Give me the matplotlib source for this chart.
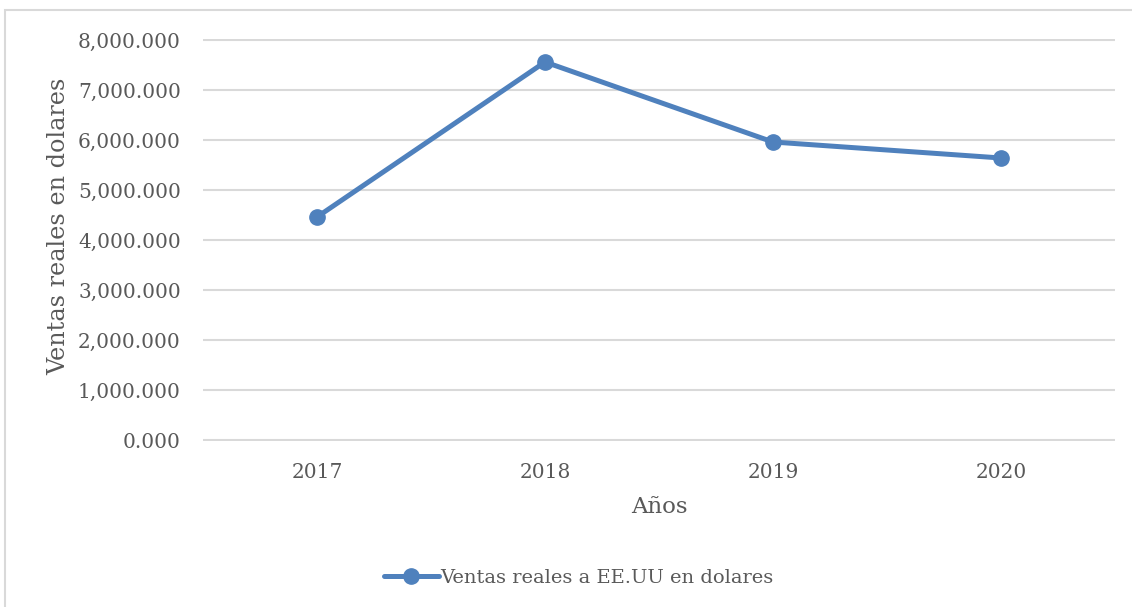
import matplotlib
matplotlib.use("Agg")
import matplotlib.pyplot as plt
from matplotlib.patches import Rectangle
from matplotlib.ticker import FuncFormatter

years = ["2017", "2018", "2019", "2020"]
ventas = [4460, 7560, 5960, 5640]
series_label = "Ventas reales a EE.UU en dolares"
y_ticks = [0, 1000, 2000, 3000, 4000, 5000, 6000, 7000, 8000]

plt.rcParams['font.family'] = ['DejaVu Serif']
W, H = 1132, 607
fig = plt.figure(figsize=(W / 100, H / 100), dpi=100)
fig.patch.set_facecolor('white')

# outer chart border
fig.add_artist(Rectangle((5 / W, -0.1), 1.2, 1 - 10 / H + 0.1, transform=fig.transFigure,
                         fill=False, edgecolor='#d9d9d9', linewidth=1.5))

ax = fig.add_axes([203 / W, 1 - 441 / H, (1115 - 203) / W, 402 / H])
x = list(range(len(years)))
ax.plot(x, ventas, color='#4f81bd', linewidth=3.6, marker='o', markersize=11,
        label=series_label, solid_capstyle='round', zorder=3)
ax.set_xlim(-0.5, len(years) - 0.5)
ax.set_ylim(-20, 8020)
ax.set_yticks(y_ticks)
ax.yaxis.set_major_formatter(FuncFormatter(lambda v, p: f"{v:,.0f}.000"))
ax.set_xticks(x)
ax.set_xticklabels(years)
ax.grid(axis='y', color='#d9d9d9', linewidth=1.5)
ax.set_axisbelow(True)
for s in ax.spines.values():
    s.set_visible(False)
ax.tick_params(axis='both', length=0, labelsize=14.5, colors='#595959')
ax.tick_params(axis='y', pad=16)
ax.tick_params(axis='x', pad=16)
ax.set_xlabel("Años", fontsize=16.5, color='#595959', labelpad=10)
ax.set_ylabel("Ventas reales en dolares", fontsize=17.2, color='#595959')
ax.yaxis.set_label_coords((70 - 203) / 912, 0.535)

leg = fig.legend(handles=ax.get_lines(), labels=[series_label], loc='center',
                 bbox_to_anchor=(579 / W, 1 - 578 / H), frameon=False, fontsize=14,
                 handlelength=2.8, handletextpad=0.1)
for t in leg.get_texts():
    t.set_color('#595959')

fig.savefig("out.png", dpi=100, facecolor='white')
